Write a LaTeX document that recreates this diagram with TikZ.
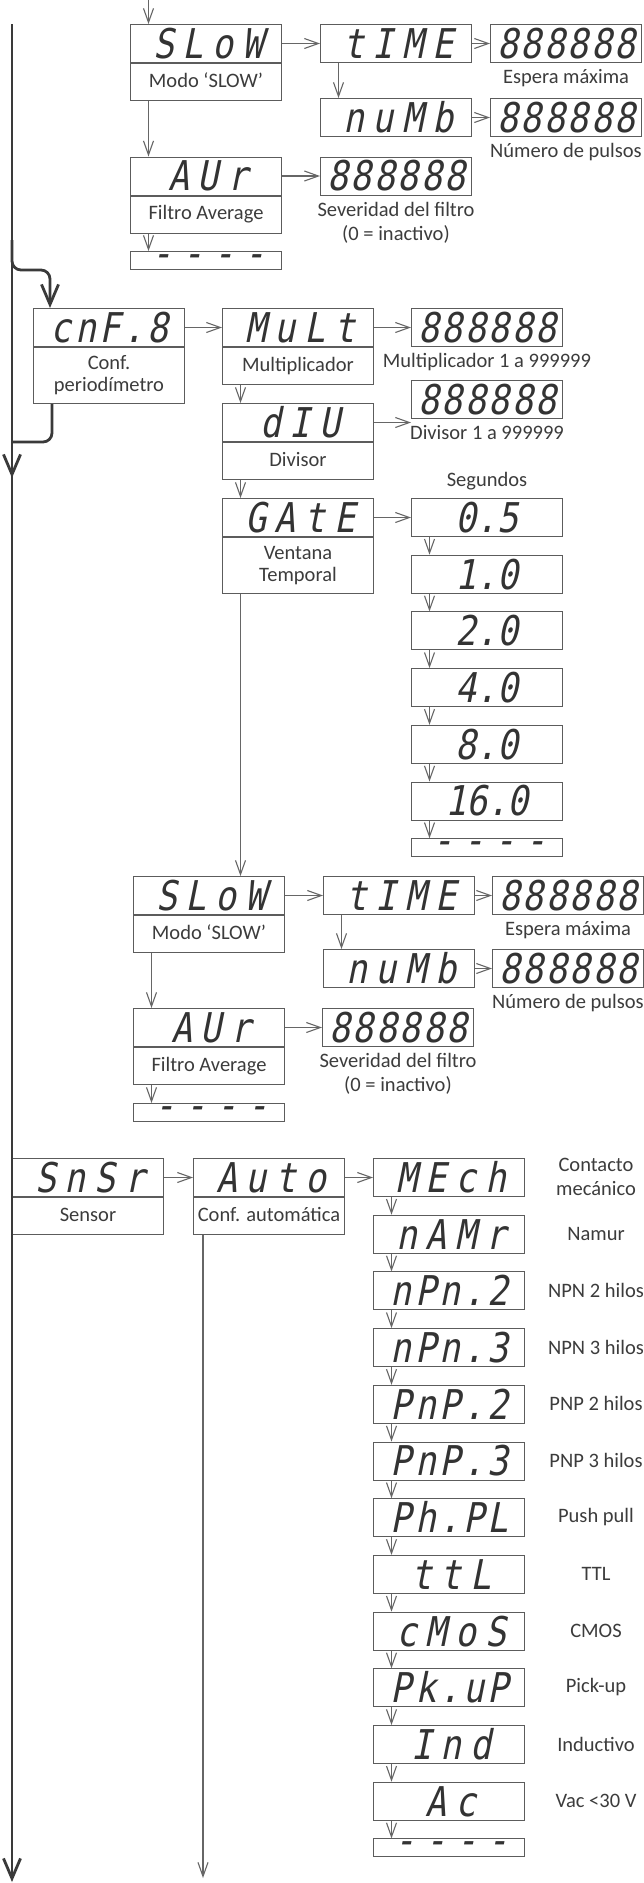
\documentclass[tikz,border=0pt]{standalone}
\usepackage{fontspec}
\usetikzlibrary{arrows.meta,positioning}
\newfontfamily\labfont{Carlito}
\newfontfamily\sevenseg{DejaVu Sans Mono}[FakeSlant=0.2,FakeStretch=0.85,Ligatures=TeXOff]
\definecolor{boxc}{HTML}{5C5C5C}
\definecolor{segc}{HTML}{333333}
\definecolor{txtc}{HTML}{3C3C3C}
\definecolor{mainc}{HTML}{3A3A3A}
\definecolor{linec}{HTML}{666666}
\newcommand\seg[2][21]{{\addfontfeatures{LetterSpace=#1}\kern#1\dimexpr0.005em\relax#2}}
\tikzset{
 disp/.style={draw=boxc, line width=1pt, fill=white, anchor=north west, minimum width=151pt, minimum height=38pt, inner sep=0pt, text=segc, font=\sevenseg\fontsize{41}{41}\selectfont, text height=29.9pt, text depth=0pt},
 dashbox/.style={disp, minimum height=18pt, text height=14pt, text depth=-8pt},
 labbase/.style={draw=boxc, line width=1pt, fill=white, anchor=north, minimum width=151pt, inner sep=0pt, text=txtc, font=\labfont\fontsize{20.5}{22}\selectfont},
 labone/.style={labbase, minimum height=37pt, text height=14pt, text depth=4pt},
 labtwo/.style={labbase, minimum height=56pt, align=center},
 note/.style={text=txtc, font=\labfont\fontsize{20.5}{24}\selectfont, align=center, inner sep=0pt},
 cap/.style={note, below=6.5pt of #1},
 conn/.style={draw=linec, line width=1.1pt, -{Straight Barb[length=14pt,width=10pt]}},
 mainln/.style={draw=mainc, line width=2.8pt},
 bigtip/.style={-{Straight Barb[length=20pt,width=17pt]}},
}
\begin{document}
\begin{tikzpicture}[x=1pt,y=-1pt]
\fill[white] (0,0) rectangle (643,1883);
\useasboundingbox (0,0) rectangle (643,1883);

% ---------------- section 1: SLOW / AVR ----------------
\node[disp] (slow1) at (130,24) {\seg{SLoW}};
\node[labone] (slow1L) at (slow1.south) {Modo ‘SLOW’};
\node[disp] (time1) at (320,24) {\seg{tIME}};
\node[disp] (v1a) at (490,24) {\seg[6]{888888}};
\node[cap=v1a] (v1aT) {Espera máxima};
\node[disp] (numb1) at (320,98) {\seg{nuMb}};
\node[disp] (v1b) at (490,98) {\seg[6]{888888}};
\node[cap=v1b] (v1bT) {Número de pulsos};
\node[disp] (avr1) at (130,156.5) {\seg{AUr}};
\node[labone] (avr1L) at (avr1.south) {Filtro Average};
\node[disp] (v1c) at (320,156.5) {\seg[6]{888888}};
\node[cap=v1c] (v1cT) {Severidad del filtro\\(0 = inactivo)};
\node[dashbox] (dash1) at (130,251) {\seg[24]{----}};

\coordinate (in1) at (148.5,0);
\draw[conn] (in1) -- (in1 |- slow1.north);
\draw[conn] (slow1.east) -- (time1.west);
\draw[conn] (time1.east) -- (v1a.west);
\draw[conn] ([xshift=18.5pt]time1.south west) -- ([xshift=18.5pt]numb1.north west);
\draw[conn] (numb1.east) -- (v1b.west);
\draw[conn] ([xshift=18.5pt]slow1L.south west) -- ([xshift=18.5pt]avr1.north west);
\draw[conn] (avr1.east) -- (v1c.west);
\draw[conn] ([xshift=18.5pt]avr1L.south west) -- ([xshift=18.5pt]dash1.north west);

% ---------------- section 2: cnF.8 ----------------
\node[disp] (cnf) at (33,308) {\seg[8]{cnF.8}};
\node[labtwo] (cnfL) at (cnf.south) {Conf.\\periodímetro};
\node[disp] (mult) at (222,308) {\seg{MuLt}};
\node[labone] (multL) at (mult.south) {Multiplicador};
\node[disp] (v2a) at (411,308) {\seg[6]{888888}};
\node[cap=v2a] (v2aT) {Multiplicador 1 a 999999};
\node[disp] (div) at (222,403) {\seg{dIU}};
\node[labone] (divL) at (div.south) {Divisor};
\node[disp] (v2b) at (411,380) {\seg[6]{888888}};
\node[cap=v2b] (v2bT) {Divisor 1 a 999999};
\node[disp] (gate) at (222,498) {\seg{GAtE}};
\node[labtwo] (gateL) at (gate.south) {Ventana\\Temporal};

\node[disp] (g05) at (411,498) {\seg[0]{0.5}};
\node[note, above=8pt of g05] (segT) {Segundos};
\node[disp] (g10) at (411,554.7) {\seg[0]{1.0}};
\node[disp] (g20) at (411,611.4) {\seg[0]{2.0}};
\node[disp] (g40) at (411,668.1) {\seg[0]{4.0}};
\node[disp] (g80) at (411,724.8) {\seg[0]{8.0}};
\node[disp] (g160) at (411,781.5) {\seg[0]{16.0}};
\node[dashbox] (gdash) at (411,838.2) {\seg[24]{----}};

\draw[conn] (cnf.east) -- (mult.west);
\draw[conn] (mult.east) -- (v2a.west);
\draw[conn] ([xshift=18.5pt]multL.south west) -- ([xshift=18.5pt]div.north west);
\draw[conn] (div.east) -- (div.east -| v2b.west);
\draw[conn] ([xshift=18.5pt]divL.south west) -- ([xshift=18.5pt]gate.north west);
\draw[conn] (gate.east) -- (g05.west);
\foreach \a/\b in {g05/g10, g10/g20, g20/g40, g40/g80, g80/g160, g160/gdash}
  \draw[conn] ([xshift=18.5pt]\a.south west) -- ([xshift=18.5pt]\b.north west);

% ---------------- section 2b: SLOW / AVR ----------------
\node[disp] (slow2) at (133,876) {\seg{SLoW}};
\node[labone] (slow2L) at (slow2.south) {Modo ‘SLOW’};
\node[disp] (time2) at (323,876) {\seg{tIME}};
\node[disp] (v3a) at (492,876) {\seg[6]{888888}};
\node[cap=v3a] (v3aT) {Espera máxima};
\node[disp] (numb2) at (323,949) {\seg{nuMb}};
\node[disp] (v3b) at (492,949) {\seg[6]{888888}};
\node[cap=v3b] (v3bT) {Número de pulsos};
\node[disp] (avr2) at (133,1008) {\seg{AUr}};
\node[labone] (avr2L) at (avr2.south) {Filtro Average};
\node[disp] (v3c) at (322,1008) {\seg[6]{888888}};
\node[cap=v3c] (v3cT) {Severidad del filtro\\(0 = inactivo)};
\node[dashbox] (dash2) at (133,1103) {\seg[24]{----}};

\draw[conn] ([xshift=18.5pt]gateL.south west) -- ([xshift=18.5pt]gateL.south west |- slow2.north);
\draw[conn] (slow2.east) -- (time2.west);
\draw[conn] (time2.east) -- (v3a.west);
\draw[conn] ([xshift=18.5pt]time2.south west) -- ([xshift=18.5pt]numb2.north west);
\draw[conn] (numb2.east) -- (v3b.west);
\draw[conn] ([xshift=18.5pt]slow2L.south west) -- ([xshift=18.5pt]avr2.north west);
\draw[conn] (avr2.east) -- (v3c.west);
\draw[conn] ([xshift=18.5pt]avr2L.south west) -- ([xshift=18.5pt]dash2.north west);

% ---------------- section 3: SnSr ----------------
\node[disp] (snsr) at (12,1158) {\seg{SnSr}};
\node[labone] (snsrL) at (snsr.south) {Sensor};
\node[disp] (autoc) at (193,1158) {\seg{Auto}};
\node[labone] (autocL) at (autoc.south) {Conf. automática};

\node[disp] (s0) at (373,1158) {\seg{MEch}};
\node[disp] (s1) at (373,1214.7) {\seg{nAMr}};
\node[disp] (s2) at (373,1271.4) {\seg[8]{nPn.2}};
\node[disp] (s3) at (373,1328.1) {\seg[8]{nPn.3}};
\node[disp] (s4) at (373,1384.8) {\seg[8]{PnP.2}};
\node[disp] (s5) at (373,1441.5) {\seg[8]{PnP.3}};
\node[disp] (s6) at (373,1498.2) {\seg[8]{Ph.PL}};
\node[disp] (s7) at (373,1554.9) {\seg{ttL}};
\node[disp] (s8) at (373,1611.6) {\seg{cMoS}};
\node[disp] (s9) at (373,1668.3) {\seg[8]{Pk.uP}};
\node[disp] (s10) at (373,1725) {\seg{Ind}};
\node[disp] (s11) at (373,1781.7) {\seg{Ac}};
\node[dashbox] (sdash) at (373,1838.4) {\seg[24]{----}};

\node[note] (t0) at (596,1177) {Contacto\\mecánico};
\node[note] (t1) at (596,1233.7) {Namur};
\node[note] (t2) at (596,1290.4) {NPN 2 hilos};
\node[note] (t3) at (596,1347.1) {NPN 3 hilos};
\node[note] (t4) at (596,1403.8) {PNP 2 hilos};
\node[note] (t5) at (596,1460.5) {PNP 3 hilos};
\node[note] (t6) at (596,1517.2) {Push pull};
\node[note] (t7) at (596,1573.9) {TTL};
\node[note] (t8) at (596,1630.6) {CMOS};
\node[note] (t9) at (596,1687.3) {Pick-up};
\node[note] (t10) at (596,1744) {Inductivo};
\node[note] (t11) at (596,1800.7) {Vac <30 V};

\draw[conn] (snsr.east) -- (autoc.west);
\draw[conn] (autoc.east) -- (s0.west);
\foreach \a/\b in {s0/s1, s1/s2, s2/s3, s3/s4, s4/s5, s5/s6, s6/s7, s7/s8, s8/s9, s9/s10, s10/s11, s11/sdash}
  \draw[conn] ([xshift=18.5pt]\a.south west) -- ([xshift=18.5pt]\b.north west);
\coordinate (autoEnd) at (203,1878);
\draw[conn] (autocL.south west -| autoEnd) -- (autoEnd);

% ---------------- main line ----------------
\coordinate (mTop) at (12,24);
\coordinate (mEnd) at (12,1882);
\draw[mainln, bigtip] (mTop) -- (mEnd);
\coordinate (brA) at (12,240);
\coordinate (brB) at (12,270);
\draw[mainln, bigtip, rounded corners=9pt] (brA) -- (brB) -| ([xshift=17pt]cnf.north west);
\coordinate (rtA) at (12,442);
\draw[mainln, rounded corners=9pt] ([xshift=19pt]cnfL.south west) |- (rtA);
\coordinate (rtB) at (12,478);
\draw[mainln, bigtip] (rtA) -- (rtB);
\end{tikzpicture}
\end{document}
